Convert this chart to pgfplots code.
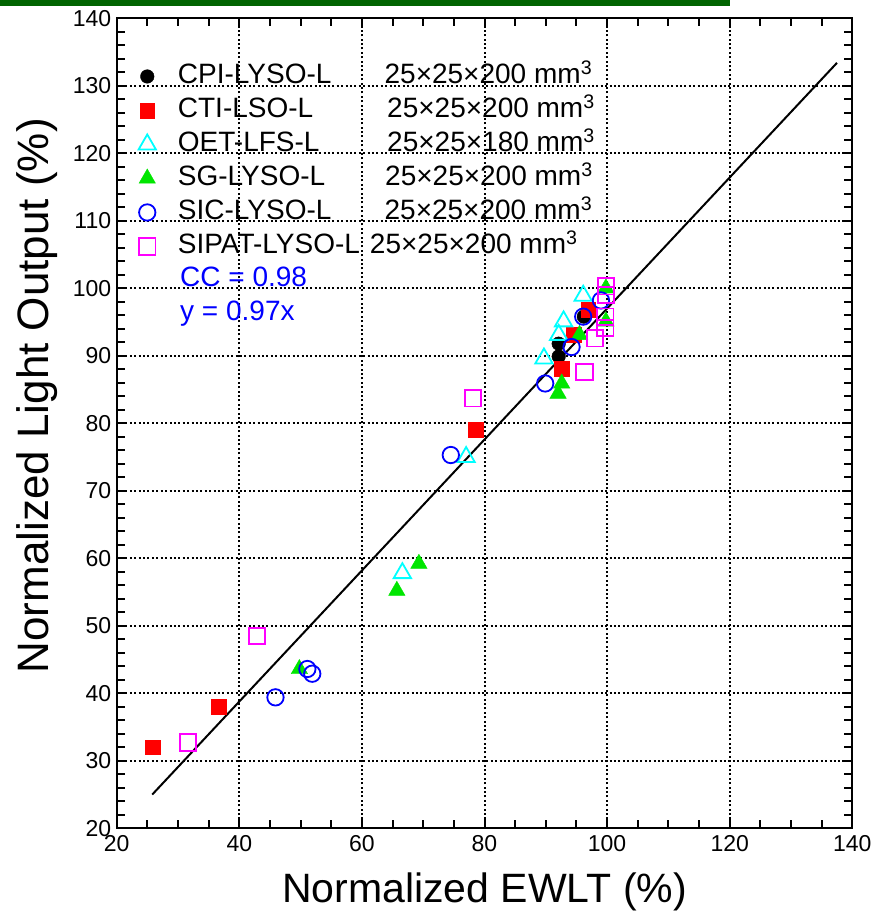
\documentclass[border=0pt]{standalone}
\usepackage{pgfplots}
\pgfplotsset{compat=1.18}
\usepackage{fontspec}
\setmainfont{Liberation Sans}
\definecolor{mygreen}{RGB}{0,230,0}
\definecolor{barg}{RGB}{0,100,0}
\definecolor{mycyan}{RGB}{0,255,255}
\definecolor{mymag}{RGB}{255,0,255}
\begin{document}
\begin{tikzpicture}
\useasboundingbox (0,0) rectangle (876pt,916pt);
\fill[barg] (0,910pt) rectangle (730pt,916pt);
\begin{axis}[
  at={(116.7pt,87.7pt)}, anchor=south west,
  scale only axis, width=735.6pt, height=810pt,
  xmin=20, xmax=140, ymin=20, ymax=140,
  xtick={20,40,...,140}, ytick={20,30,...,140},
  minor x tick num=3, minor y tick num=4,
  tick align=inside,
  major tick length=10pt, minor tick length=8pt,
  tick style={black, line width=2pt},
  axis line style={line width=2.2pt},
  xmajorgrids=true, ymajorgrids=true,
  major grid style={black, line width=2pt, dash pattern=on 2pt off 2.4pt},
  /pgf/number format/assume math mode=true,
  tick label style={font=\fontsize{23}{26}\selectfont},
  xticklabel style={yshift=-4pt},
  yticklabel style={xshift=-2pt},
  xlabel={Normalized EWLT (\%)},
  ylabel={Normalized Light Output (\%)},
  xlabel style={font=\fontsize{41}{48}\selectfont, at={(axis description cs:0.5,-0.092)}, anchor=base},
  ylabel style={font=\fontsize{44}{50}\selectfont, at={(axis description cs:-0.108,0.534)}, anchor=center},
  legend cell align=left,
  legend style={at={(axis cs:23.54,133.93)}, anchor=north west, draw=none, fill=none,
    font=\fontsize{28}{34}\selectfont, inner sep=0pt, row sep=0pt,
    nodes={inner sep=0pt, text height=24pt, text depth=10pt},
    /tikz/every odd column/.append style={column sep=22pt}},
]
\addplot[black, line width=2pt, forget plot] coordinates {(25.8,25.0) (137.5,133.4)};

\addplot[only marks, mark=*, black, mark size=6.8pt] coordinates {
(96.2,95.8) (92.1,91.8) (92.1,89.9)};
\addlegendentry{\makebox[206.7pt][l]{CPI-LYSO-L}25×25×200 mm\textsuperscript{3}}

\addplot[only marks, mark=square*, red, mark size=7.4pt] coordinates {
(25.9,32.0) (36.6,38.0) (78.6,79.0) (92.6,88.1) (94.5,93.1) (96.9,96.8)};
\addlegendentry{\makebox[209.3pt][l]{CTI-LSO-L}25×25×200 mm\textsuperscript{3}}

\addplot[only marks, mark=triangle, mycyan, mark size=10pt, mark options={line width=1.8pt}] coordinates {
(66.6,57.8) (77.0,75.0) (89.7,89.6) (92.1,93.1) (92.9,95.1) (96.1,98.9)};
\addlegendentry{\makebox[209.3pt][l]{OET-LFS-L}25×25×180 mm\textsuperscript{3}}

\addplot[only marks, mark=triangle*, mygreen, mark size=9.5pt] coordinates {
(49.8,43.6) (65.7,55.2) (69.3,59.2) (92.0,84.4) (92.6,85.9) (95.5,93.1) (99.8,95.1) (99.8,100.0)};
\addlegendentry{\makebox[207.3pt][l]{SG-LYSO-L}25×25×200 mm\textsuperscript{3}}

\addplot[only marks, mark=o, blue, mark size=8.2pt, mark options={line width=1.8pt}] coordinates {
(45.9,39.4) (51.1,43.6) (51.9,42.9) (74.5,75.3) (89.9,85.9) (94.2,91.3) (96.1,95.8) (99.0,98.2)};
\addlegendentry{\makebox[206.7pt][l]{SIC-LYSO-L}25×25×200 mm\textsuperscript{3}}

\addplot[only marks, mark=square, mymag, mark size=8.2pt, mark options={line width=1.8pt}] coordinates {
(31.6,32.7) (42.9,48.5) (78.1,83.7) (96.3,87.6) (98.0,92.6) (99.7,94.1) (99.7,95.8) (99.8,99.0) (99.8,100.3)};
\addlegendentry{SIPAT-LYSO-L\hspace{10pt}25×25×200 mm\textsuperscript{3}}

\node[anchor=base west, text=blue, font=\fontsize{28}{34}\selectfont, inner sep=0pt] at (axis cs:30.33,100.24) {CC = 0.98};
\node[anchor=base west, text=blue, font=\fontsize{28}{34}\selectfont, inner sep=0pt] at (axis cs:30.33,95.3) {y = 0.97x};
\end{axis}
\end{tikzpicture}
\end{document}
